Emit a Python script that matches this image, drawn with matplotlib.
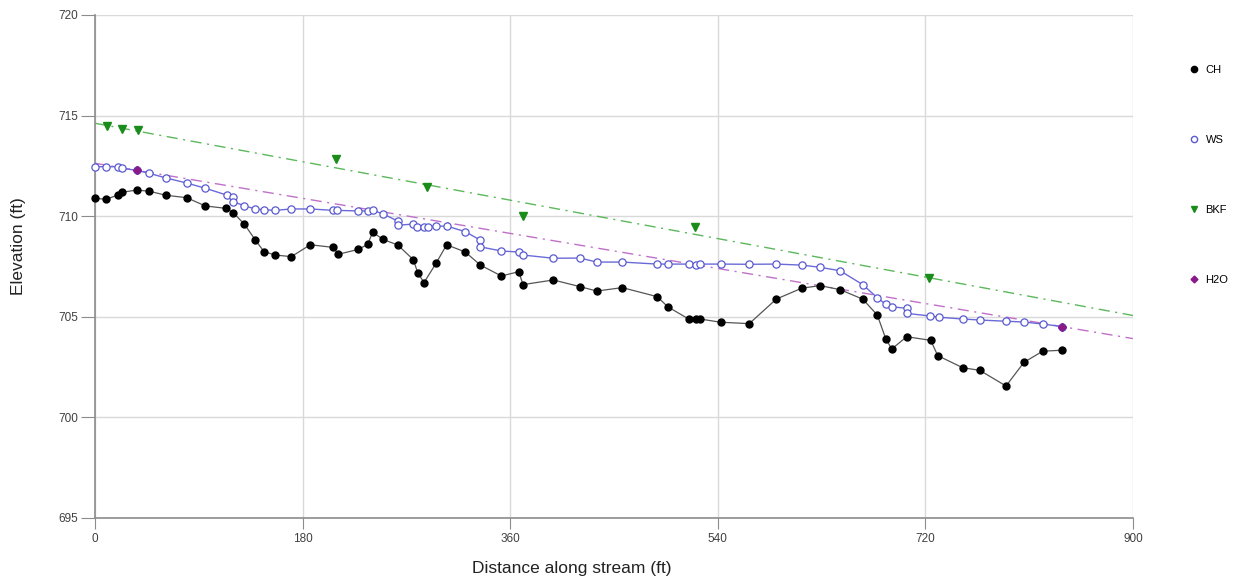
import numpy as np
import matplotlib
matplotlib.use("Agg")
import matplotlib.pyplot as plt
from matplotlib.lines import Line2D

ch_x = [0, 9.5, 19.7, 23.4, 36.2, 47.1, 61.6, 79.5, 95.6, 113.6, 119.9, 129.4, 139.0, 146.5,
        156.3, 170.2, 186.7, 206.6, 211.0, 228.3, 236.4, 240.8, 249.5, 262.5, 276.0, 279.8,
        285.3, 295.7, 304.9, 321.1, 334.1, 352.3, 367.4, 371.1, 397.4, 420.5, 435.0, 457.2,
        487.5, 496.6, 515.0, 520.8, 524.6, 542.5, 567.3, 590.7, 612.7, 628.6, 646.0, 665.6,
        678.3, 685.6, 690.8, 703.8, 724.6, 730.7, 752.3, 767.1, 789.9, 805.5, 821.7, 838.7]
ch_y = [710.89, 710.84, 711.05, 711.19, 711.30, 711.24, 711.04, 710.92, 710.51, 710.39, 710.17,
        709.61, 708.82, 708.24, 708.07, 707.99, 708.58, 708.45, 708.11, 708.35, 708.60, 709.21,
        708.85, 708.57, 707.84, 707.19, 706.70, 707.66, 708.58, 708.22, 707.57, 707.03, 707.24,
        706.60, 706.83, 706.50, 706.28, 706.45, 706.00, 705.50, 704.88, 704.89, 704.89, 704.73,
        704.66, 705.88, 706.42, 706.55, 706.35, 705.88, 705.09, 703.91, 703.40, 704.01, 703.83,
        703.07, 702.47, 702.34, 701.56, 702.74, 703.29, 703.34]

ws_x = [0, 9.5, 19.7, 23.4, 36.2, 47.1, 61.6, 79.5, 95.6, 114.2, 119.4, 119.9, 129.4, 139.0,
        146.5, 156.3, 170.2, 186.7, 206.6, 210.1, 228.3, 236.4, 240.8, 249.5, 262.5, 262.5,
        276.0, 279.4, 285.3, 288.5, 295.7, 304.9, 321.1, 333.8, 333.8, 352.3, 367.4, 371.1,
        397.4, 420.5, 435.0, 457.2, 487.5, 496.6, 515.0, 520.8, 524.6, 542.5, 567.3, 590.7,
        612.7, 628.6, 646.0, 665.6, 678.3, 685.6, 690.8, 703.8, 703.8, 724.0, 731.5, 752.3,
        767.1, 789.9, 805.5, 821.7, 838.7]
ws_y = [712.46, 712.46, 712.46, 712.38, 712.28, 712.13, 711.90, 711.65, 711.39, 711.05, 710.94,
        710.72, 710.52, 710.36, 710.32, 710.29, 710.36, 710.36, 710.29, 710.29, 710.26, 710.26,
        710.29, 710.12, 709.76, 709.55, 709.61, 709.48, 709.48, 709.48, 709.50, 709.51, 709.23,
        708.82, 708.48, 708.27, 708.22, 708.07, 707.91, 707.92, 707.72, 707.72, 707.62, 707.62,
        707.62, 707.59, 707.62, 707.62, 707.61, 707.62, 707.57, 707.46, 707.29, 706.60, 705.95,
        705.62, 705.50, 705.42, 705.17, 705.04, 704.98, 704.89, 704.84, 704.78, 704.74, 704.64,
        704.51]

bkf_x = [10.7, 23.4, 37.0, 209.0, 288.1, 371.1, 520.2, 723.4]
bkf_y = [714.48, 714.32, 714.28, 712.83, 711.47, 710.01, 709.45, 706.94]

h2o_x = [36.2, 838.7]
h2o_y = [712.28, 704.51]

x_ticks = [0, 180, 360, 540, 720, 900]
y_ticks = [695, 700, 705, 710, 715, 720]

plt.rcParams['font.family'] = ['Liberation Sans', 'DejaVu Sans']

W, H = 1239, 584
fig = plt.figure(figsize=(W / 100, H / 100), dpi=100)
ax = fig.add_axes([95 / W, 1 - 518 / H, (1133 - 95) / W, (518 - 15) / H])

ax.set_xlim(0, 900)
ax.set_ylim(695, 720)

# trend lines
xl = np.array([0, 900])
pb = np.polyfit(bkf_x, bkf_y, 1)
ax.plot(xl, np.polyval(pb, xl), color='#5cb85c', lw=1.0, ls=(0, (8, 4, 1.5, 4)), zorder=2)
ph = np.polyfit(h2o_x, h2o_y, 1)
ax.plot(xl, np.polyval(ph, xl), color='#c070c8', lw=1.0, ls=(0, (8, 4, 1.5, 4)), zorder=2)

ax.plot(ch_x, ch_y, color='#555555', lw=0.9, marker='o', ms=5.0, mfc='black', mec='black',
        zorder=4, clip_on=False)
ax.plot(ws_x, ws_y, color='#6a6ad8', lw=1.0, marker='o', ms=5.2, mfc='white', mec='#5a5ad0',
        mew=0.9, zorder=5, clip_on=False)
ax.plot(bkf_x, bkf_y, ls='none', marker='v', ms=6, color='#1a8c1a', zorder=6)
ax.plot(h2o_x, h2o_y, ls='none', marker='D', ms=4.5, color='#8a1a8a', zorder=7)

ax.set_xticks(x_ticks)
ax.set_yticks(y_ticks)
ax.grid(True, color='#d9d9d9', lw=1.0)
ax.set_axisbelow(True)
for s in ['top', 'right']:
    ax.spines[s].set_visible(False)
for s in ['left', 'bottom']:
    ax.spines[s].set_color('#8c8c8c')
    ax.spines[s].set_linewidth(1.2)
ax.tick_params(axis='y', length=10, color='#8c8c8c', labelsize=8.5, labelcolor='#404040', pad=2)
ax.tick_params(axis='x', length=8, color='#8c8c8c', labelsize=8.5, labelcolor='#404040', pad=3)

fig.text(572 / W, 1 - 569 / H, 'Distance along stream (ft)', fontsize=12.5, color='#222222',
         ha='center', va='center')
fig.text(19 / W, 1 - 246 / H, 'Elevation (ft)', fontsize=12.5, color='#222222',
         ha='center', va='center', rotation=90)

handles = [
    Line2D([], [], ls='none', marker='o', ms=4.5, mfc='black', mec='black'),
    Line2D([], [], ls='none', marker='o', ms=4.5, mfc='white', mec='#5a5ad0'),
    Line2D([], [], ls='none', marker='v', ms=5, color='#1a8c1a'),
    Line2D([], [], ls='none', marker='D', ms=3.5, color='#8a1a8a'),
]
fig.legend(handles, ['CH', 'WS', 'BKF', 'H2O'], loc='upper left',
           bbox_to_anchor=(1180 / W, 1 - 55 / H), frameon=False, fontsize=8,
           labelspacing=5.4, handlelength=0.8, handletextpad=0.6)

fig.savefig('out.png', dpi=100)
